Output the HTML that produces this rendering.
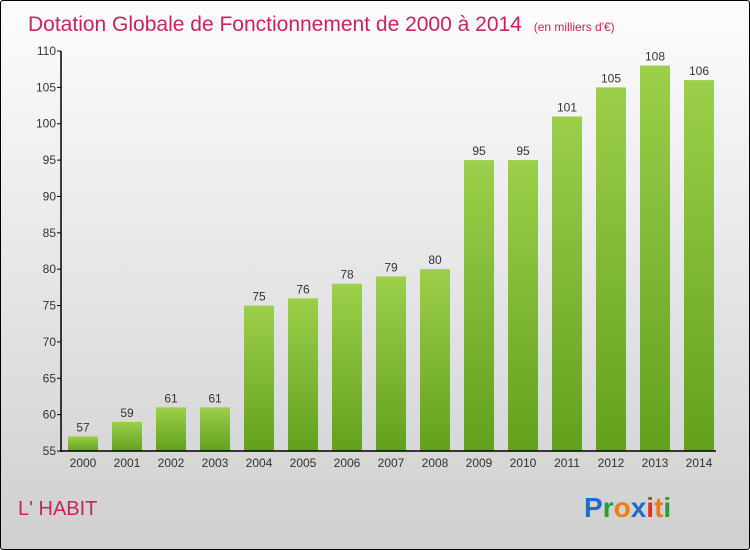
<!DOCTYPE html>
<html><head><meta charset="utf-8"><style>
body{margin:0;}
#wrap{width:750px;height:550px;position:relative;box-sizing:border-box;border:1px solid #000;border-radius:3px;overflow:hidden;background:linear-gradient(#fdfdfd,#cfcfcf);font-family:"Liberation Sans",sans-serif;}
svg{position:absolute;left:0;top:0}
</style></head><body>
<div id="wrap">
<svg id="c" width="750" height="550">
<defs><linearGradient id="g" x1="0" y1="0" x2="0" y2="1"><stop offset="0" stop-color="#9ccf4a"/><stop offset="1" stop-color="#63a11b"/></linearGradient></defs>
<text x="27" y="30" font-size="21" fill="#c8245c">Dotation Globale de Fonctionnement de 2000 à 2014 <tspan font-size="12" dx="6">(en milliers d'€)</tspan></text>
<text x="17" y="514" font-size="20" fill="#c8245c">L' HABIT</text>
<text x="583" y="516" font-size="28" font-weight="bold"><tspan fill="#1a6fc9">P</tspan><tspan fill="#2a9a3a">r</tspan><tspan fill="#f07c10">o</tspan><tspan fill="#1a6fc9">x</tspan><tspan fill="#e03020">i</tspan><tspan fill="#f07c10">t</tspan><tspan fill="#2a9a3a">i</tspan></text>
</svg></div>
<script>
const years=["2000","2001","2002","2003","2004","2005","2006","2007","2008","2009","2010","2011","2012","2013","2014"];
const values=[57,59,61,61,75,76,78,79,80,95,95,101,105,108,106];
const yTicks=[55,60,65,70,75,80,85,90,95,100,105,110];
const svg=document.getElementById('c');const NS='http://www.w3.org/2000/svg';
const y=v=>450-(v-55)*400/55;const x=i=>82+i*44;
function mk(t,a,txt){const e=document.createElementNS(NS,t);for(const k in a)e.setAttribute(k,a[k]);if(txt!=null)e.textContent=txt;svg.appendChild(e);return e;}
yTicks.forEach(v=>{
const l=mk('line',{x1:56,x2:60,y1:y(v),y2:y(v),stroke:'#000'});


const t=mk('text',{x:55,y:y(v)+4,'font-size':12,'text-anchor':'end',fill:'#333'},v);


});
values.forEach((v,i)=>{
const r=mk('rect',{x:x(i)-15,y:y(v),width:30,height:450-y(v),fill:'url(#g)'});


const t=mk('text',{x:x(i),y:y(v)-5,'font-size':12,'text-anchor':'middle',fill:'#333'},v);


const xl=mk('text',{x:x(i),y:466,'font-size':12,'text-anchor':'middle',fill:'#333'},years[i]);


});
const ya=mk('line',{x1:60,x2:60,y1:y(110),y2:451,stroke:'#000','stroke-width':1.5});


const xa=mk('line',{x1:60,x2:715,y1:450,y2:450,stroke:'#000','stroke-width':1.5});


</script>
</body></html>
